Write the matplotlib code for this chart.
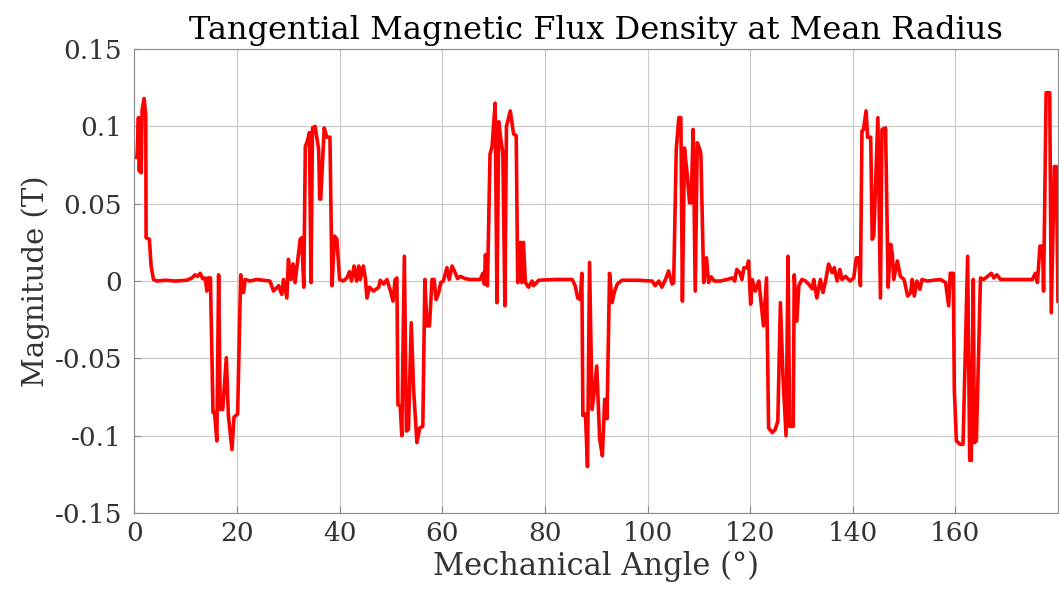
import matplotlib
matplotlib.use('Agg')
import matplotlib.pyplot as plt
import numpy as np

plt.rcParams['font.family'] = 'DejaVu Serif'
plt.rcParams['axes.unicode_minus'] = False

# values (deg, T)
angle = [0, 0.5, 0.77, 0.95, 1.2, 1.3, 1.5, 1.87, 2.2, 2.26, 2.9, 3.24, 3.7, 4.34, 6, 8, 10.2,
         11.2, 11.8, 12.3, 12.8, 13.3, 13.8, 14.1, 14.4, 14.8, 15.3, 15.6, 16.05, 16.4, 16.7, 17.2,
         17.9, 18.3, 19.0, 19.4, 20.1, 20.7, 21.25, 21.6, 22.5, 23.8, 25, 26.4, 27.1, 28.1, 28.7,
         29.05, 29.7, 30.0, 30.5, 30.9, 31.3, 32.3, 32.6, 33.0, 33.3, 33.7, 34.1, 34.4, 34.7, 35.2,
         35.9, 36.1, 36.3, 36.98, 37.5, 38.1, 38.5, 39.0, 39.45, 39.97, 40.7, 41.4, 41.9, 42.3,
         42.8, 43.3, 43.7, 44.0, 44.6, 45.0, 45.3, 45.8, 46.6, 47.6, 47.9, 48.6, 49.2, 49.9, 50.4,
         50.8, 51.15, 51.35, 51.8, 52.1, 52.6, 53.0, 53.4, 53.95, 54.4, 55.05, 55.6, 56.2, 56.6,
         57.0, 57.5, 58.0, 58.4, 58.8, 59.3, 59.7, 60.2, 60.9, 61.35, 61.9, 62.5, 63.0, 63.5, 64.5,
         65.4, 67.4, 67.9, 68.2, 68.4, 68.8, 69.3, 69.7, 70.3, 70.65, 71.0, 71.4, 71.8, 72.2, 72.5,
         73.25, 73.9, 74.4, 74.7, 75.2, 75.5, 75.8, 76.2, 76.8, 77.5, 77.8, 78.8, 82, 85.3, 85.9,
         86.4, 86.9, 87.2, 87.4, 87.9, 88.3, 88.7, 89.2, 89.6, 90.1, 90.67, 91.2, 91.65, 92.1, 92.6,
         93.1, 93.5, 94.1, 95.0, 98, 100.9, 101.5, 102.2, 102.8, 103.5, 104.1, 104.8, 105.1, 105.6,
         106.1, 106.5, 106.8, 107.2, 107.7, 108.2, 108.5, 108.9, 109.3, 109.7, 110.2, 110.4,
         110.95, 111.5, 111.9, 112.4, 113.0, 114.2, 115.5, 116.5, 117.0, 117.4, 118.0, 118.4,
         118.8, 119.4, 119.7, 120.1, 120.4, 121.0, 121.7, 122.6, 123.2, 123.4, 123.6, 124.3, 124.9,
         125.4, 125.9, 126.4, 127.0, 127.4, 127.7, 128.4, 128.6, 129.1, 129.5, 130.1, 130.8, 131.4,
         132.1, 132.4, 133.0, 133.7, 134.2, 134.7, 135.3, 136.0, 136.4, 136.95, 137.5, 137.9,
         138.6, 139.5, 140.2, 140.7, 141.2, 141.5, 141.8, 142.1, 142.6, 142.9, 143.5, 143.8, 144.1,
         144.9, 145.4, 145.7, 146.4, 146.9, 147.4, 147.7, 148.0, 148.7, 149.3, 150.0, 150.7, 151.3,
         151.6, 152.0, 152.5, 153.1, 153.5, 154.5, 157.1, 158.1, 158.7, 159.0, 159.6, 159.8, 160.2,
         160.9, 161.5, 162.4, 162.8, 163.1, 163.5, 163.7, 164.1, 164.9, 165.5, 166.3, 167.0, 167.5,
         168.1, 168.8, 172.0, 175.0, 175.6, 176.0, 176.5, 177.0, 177.2, 177.7, 178.4, 178.7, 179.3,
         179.7, 180.0]
flux = [0.080, 0.080, 0.1056, 0.071, 0.1056, 0.070, 0.111, 0.118, 0.107, 0.028, 0.027, 0.0097,
        0.001, 0.0, 0.0005, 0.0, 0.0005, 0.002, 0.004, 0.003, 0.005, 0.0015, 0.002, -0.0065, 0.002,
        0.002, -0.085, -0.085, -0.1034, 0.004, -0.083, -0.083, -0.0496, -0.087, -0.109, -0.088,
        -0.086, 0.004, -0.0075, 0.001, 0.0, 0.001, 0.0005, 0.0, -0.0065, -0.003, -0.0086, 0.001,
        -0.011, 0.014, 0.001, 0.011, -0.001, 0.027, 0.028, -0.004, 0.087, 0.0905, 0.096, -0.001,
        0.099, 0.1, 0.085, 0.053, 0.053, 0.099, 0.093, 0.093, -0.003, 0.029, 0.027, 0.001, 0.0,
        0.002, 0.006, 0.0, 0.0097, 0.0, 0.0097, 0.001, 0.0097, 0.002, -0.011, -0.004, -0.0065,
        -0.004, 0.0005, -0.002, 0.001, -0.0065, -0.013, 0.001, 0.002, -0.08, -0.081, -0.1, 0.016,
        -0.097, -0.096, -0.027, -0.07, -0.1045, -0.095, -0.094, 0.001, -0.029, -0.029, 0.001,
        0.001, -0.012, -0.0075, -0.001, 0.0, 0.0086, 0.001, 0.0097, 0.0054, 0.0015, 0.003, 0.0015,
        0.001, 0.001, 0.005, -0.002, 0.017, -0.003, 0.082, 0.087, 0.115, -0.014, 0.103, 0.0916,
        0.083, -0.016, 0.1, 0.11, 0.095, 0.094, -0.001, 0.025, -0.001, 0.025, -0.001, -0.004, 0.0,
        -0.003, 0.0005, 0.001, 0.001, -0.003, -0.011, -0.012, 0.005, -0.087, -0.086, -0.12, 0.012,
        -0.083, -0.072, -0.055, -0.102, -0.113, -0.0765, -0.089, 0.005, -0.014, -0.0075, -0.002,
        0.0005, 0.0005, 0.0, -0.003, 0.0, -0.004, 0.001, 0.0065, -0.002, -0.001, 0.085, 0.1056,
        0.1056, -0.013, 0.086, 0.07, 0.0506, 0.0506, 0.098, -0.0065, 0.0894, 0.085, 0.082, -0.001,
        0.015, -0.001, 0.0027, 0.0, 0.0, 0.001, 0.002, 0.0, 0.0075, 0.0054, 0.001, 0.0086, 0.0086,
        0.013, -0.015, 0.001, -0.0065, 0.0, -0.029, 0.002, -0.048, -0.095, -0.098, -0.096, -0.0905,
        -0.014, -0.0614, -0.1, 0.016, -0.094, -0.094, 0.004, -0.026, -0.003, 0.001, 0.0, -0.002,
        -0.005, 0.001, -0.011, 0.001, -0.0075, 0.0, 0.011, 0.0054, 0.0086, 0.0, 0.0075, 0.001,
        0.003, 0.0, 0.002, 0.015, 0.015, -0.003, 0.097, 0.098, 0.11, 0.093, 0.093, 0.027, 0.029,
        0.1056, -0.011, 0.098, 0.099, -0.004, 0.0237, 0.018, 0.001, 0.013, 0.003, 0.001, -0.0097,
        -0.0075, 0.001, -0.0097, 0.0, -0.0054, 0.001, 0.0, 0.001, -0.001, -0.016, 0.005, 0.005,
        -0.07, -0.1034, -0.1056, -0.1056, 0.016, -0.116, -0.116, 0.001, -0.1045, -0.1034, 0.002,
        0.001, 0.003, 0.005, 0.002, 0.004, 0.001, 0.001, 0.001, 0.005, -0.001, 0.0226, 0.0226,
        -0.0065, 0.1218, 0.1218, -0.0205, 0.074, 0.074, -0.013]

xticks = [0, 20, 40, 60, 80, 100, 120, 140, 160]
yticks = [-0.15, -0.1, -0.05, 0, 0.05, 0.1, 0.15]
ytick_labels = ['-0.15', '-0.1', '-0.05', '0', '0.05', '0.1', '0.15']

fig = plt.figure(figsize=(10.59, 5.91), dpi=100)
ax = fig.add_axes([0.127, 0.132, 0.872, 0.785])

ax.plot(angle, flux, color='red', linewidth=2.6)

ax.set_xlim(0, 180)
ax.set_ylim(-0.15, 0.15)
ax.set_xticks(xticks)
ax.set_yticks(yticks)
ax.set_yticklabels(ytick_labels)
ax.grid(True, color='#c8c8c8', linewidth=0.8)
ax.set_axisbelow(True)
for s in ax.spines.values():
    s.set_color('#888888')
    s.set_linewidth(0.8)
ax.tick_params(direction='in', length=5, color='#888888', labelsize=19, labelcolor='#333333')
ax.tick_params(axis='y', pad=9)
ax.tick_params(axis='x', pad=6)

ax.set_title('Tangential Magnetic Flux Density at Mean Radius', fontsize=23, pad=7)
ax.set_xlabel('Mechanical Angle (°)', fontsize=22, labelpad=3, color='#333333')
ax.set_ylabel('Magnitude (T)', fontsize=21, labelpad=3, color='#333333')

fig.savefig('out.png', dpi=100)
